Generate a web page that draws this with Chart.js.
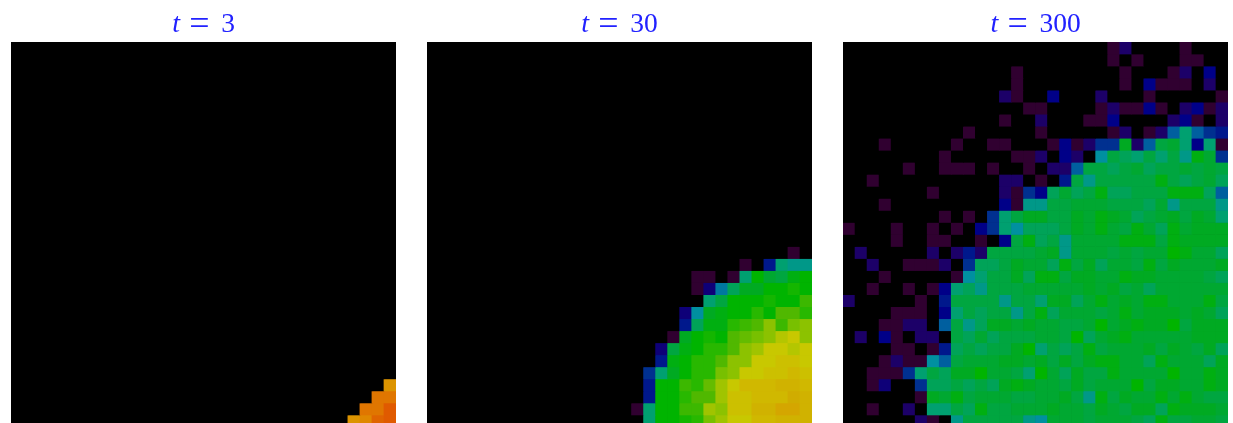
<!DOCTYPE html>
<html>
<head>
<meta charset="utf-8">
<title>t = 3, 30, 300</title>
<script src="https://cdn.jsdelivr.net/npm/chart.js@4"></script>
<style>
html, body { margin: 0; padding: 0; background: #fff; overflow: hidden; height: 423px; }
canvas { position: absolute; top: 0; }
</style>
</head>
<body>
<canvas id="panel1" width="385" height="427" style="left:11px"></canvas>
<canvas id="panel2" width="385" height="427" style="left:427px"></canvas>
<canvas id="panel3" width="385" height="427" style="left:843px"></canvas>
<script>
// one row per line, top row first, 32 cells per row
var times = ['3', '30', '300'];
var cols = ['0','1','2','3','4','5','6','7','8','9','10','11','12','13','14','15','16','17','18','19','20','21','22','23','24','25','26','27','28','29','30','31'];

var panel1 = [
 [0,0,0,0,0,0,0,0,0,0,0,0,0,0,0,0, 0,0,0,0,0,0,0,0,0,0,0,0,0,0,0,0],
 [0,0,0,0,0,0,0,0,0,0,0,0,0,0,0,0, 0,0,0,0,0,0,0,0,0,0,0,0,0,0,0,0],
 [0,0,0,0,0,0,0,0,0,0,0,0,0,0,0,0, 0,0,0,0,0,0,0,0,0,0,0,0,0,0,0,0],
 [0,0,0,0,0,0,0,0,0,0,0,0,0,0,0,0, 0,0,0,0,0,0,0,0,0,0,0,0,0,0,0,0],
 [0,0,0,0,0,0,0,0,0,0,0,0,0,0,0,0, 0,0,0,0,0,0,0,0,0,0,0,0,0,0,0,0],
 [0,0,0,0,0,0,0,0,0,0,0,0,0,0,0,0, 0,0,0,0,0,0,0,0,0,0,0,0,0,0,0,0],
 [0,0,0,0,0,0,0,0,0,0,0,0,0,0,0,0, 0,0,0,0,0,0,0,0,0,0,0,0,0,0,0,0],
 [0,0,0,0,0,0,0,0,0,0,0,0,0,0,0,0, 0,0,0,0,0,0,0,0,0,0,0,0,0,0,0,0],
 [0,0,0,0,0,0,0,0,0,0,0,0,0,0,0,0, 0,0,0,0,0,0,0,0,0,0,0,0,0,0,0,0],
 [0,0,0,0,0,0,0,0,0,0,0,0,0,0,0,0, 0,0,0,0,0,0,0,0,0,0,0,0,0,0,0,0],
 [0,0,0,0,0,0,0,0,0,0,0,0,0,0,0,0, 0,0,0,0,0,0,0,0,0,0,0,0,0,0,0,0],
 [0,0,0,0,0,0,0,0,0,0,0,0,0,0,0,0, 0,0,0,0,0,0,0,0,0,0,0,0,0,0,0,0],
 [0,0,0,0,0,0,0,0,0,0,0,0,0,0,0,0, 0,0,0,0,0,0,0,0,0,0,0,0,0,0,0,0],
 [0,0,0,0,0,0,0,0,0,0,0,0,0,0,0,0, 0,0,0,0,0,0,0,0,0,0,0,0,0,0,0,0],
 [0,0,0,0,0,0,0,0,0,0,0,0,0,0,0,0, 0,0,0,0,0,0,0,0,0,0,0,0,0,0,0,0],
 [0,0,0,0,0,0,0,0,0,0,0,0,0,0,0,0, 0,0,0,0,0,0,0,0,0,0,0,0,0,0,0,0],
 [0,0,0,0,0,0,0,0,0,0,0,0,0,0,0,0, 0,0,0,0,0,0,0,0,0,0,0,0,0,0,0,0],
 [0,0,0,0,0,0,0,0,0,0,0,0,0,0,0,0, 0,0,0,0,0,0,0,0,0,0,0,0,0,0,0,0],
 [0,0,0,0,0,0,0,0,0,0,0,0,0,0,0,0, 0,0,0,0,0,0,0,0,0,0,0,0,0,0,0,0],
 [0,0,0,0,0,0,0,0,0,0,0,0,0,0,0,0, 0,0,0,0,0,0,0,0,0,0,0,0,0,0,0,0],
 [0,0,0,0,0,0,0,0,0,0,0,0,0,0,0,0, 0,0,0,0,0,0,0,0,0,0,0,0,0,0,0,0],
 [0,0,0,0,0,0,0,0,0,0,0,0,0,0,0,0, 0,0,0,0,0,0,0,0,0,0,0,0,0,0,0,0],
 [0,0,0,0,0,0,0,0,0,0,0,0,0,0,0,0, 0,0,0,0,0,0,0,0,0,0,0,0,0,0,0,0],
 [0,0,0,0,0,0,0,0,0,0,0,0,0,0,0,0, 0,0,0,0,0,0,0,0,0,0,0,0,0,0,0,0],
 [0,0,0,0,0,0,0,0,0,0,0,0,0,0,0,0, 0,0,0,0,0,0,0,0,0,0,0,0,0,0,0,0],
 [0,0,0,0,0,0,0,0,0,0,0,0,0,0,0,0, 0,0,0,0,0,0,0,0,0,0,0,0,0,0,0,0],
 [0,0,0,0,0,0,0,0,0,0,0,0,0,0,0,0, 0,0,0,0,0,0,0,0,0,0,0,0,0,0,0,0],
 [0,0,0,0,0,0,0,0,0,0,0,0,0,0,0,0, 0,0,0,0,0,0,0,0,0,0,0,0,0,0,0,0],
 [0,0,0,0,0,0,0,0,0,0,0,0,0,0,0,0, 0,0,0,0,0,0,0,0,0,0,0,0,0,0,0,18.5],
 [0,0,0,0,0,0,0,0,0,0,0,0,0,0,0,0, 0,0,0,0,0,0,0,0,0,0,0,0,0,0,19.5,19.5],
 [0,0,0,0,0,0,0,0,0,0,0,0,0,0,0,0, 0,0,0,0,0,0,0,0,0,0,0,0,0,19.5,19.5,20.5],
 [0,0,0,0,0,0,0,0,0,0,0,0,0,0,0,0, 0,0,0,0,0,0,0,0,0,0,0,0,18.5,19,20,20.5]
];

var panel2 = [
 [0,0,0,0,0,0,0,0,0,0,0,0,0,0,0,0, 0,0,0,0,0,0,0,0,0,0,0,0,0,0,0,0],
 [0,0,0,0,0,0,0,0,0,0,0,0,0,0,0,0, 0,0,0,0,0,0,0,0,0,0,0,0,0,0,0,0],
 [0,0,0,0,0,0,0,0,0,0,0,0,0,0,0,0, 0,0,0,0,0,0,0,0,0,0,0,0,0,0,0,0],
 [0,0,0,0,0,0,0,0,0,0,0,0,0,0,0,0, 0,0,0,0,0,0,0,0,0,0,0,0,0,0,0,0],
 [0,0,0,0,0,0,0,0,0,0,0,0,0,0,0,0, 0,0,0,0,0,0,0,0,0,0,0,0,0,0,0,0],
 [0,0,0,0,0,0,0,0,0,0,0,0,0,0,0,0, 0,0,0,0,0,0,0,0,0,0,0,0,0,0,0,0],
 [0,0,0,0,0,0,0,0,0,0,0,0,0,0,0,0, 0,0,0,0,0,0,0,0,0,0,0,0,0,0,0,0],
 [0,0,0,0,0,0,0,0,0,0,0,0,0,0,0,0, 0,0,0,0,0,0,0,0,0,0,0,0,0,0,0,0],
 [0,0,0,0,0,0,0,0,0,0,0,0,0,0,0,0, 0,0,0,0,0,0,0,0,0,0,0,0,0,0,0,0],
 [0,0,0,0,0,0,0,0,0,0,0,0,0,0,0,0, 0,0,0,0,0,0,0,0,0,0,0,0,0,0,0,0],
 [0,0,0,0,0,0,0,0,0,0,0,0,0,0,0,0, 0,0,0,0,0,0,0,0,0,0,0,0,0,0,0,0],
 [0,0,0,0,0,0,0,0,0,0,0,0,0,0,0,0, 0,0,0,0,0,0,0,0,0,0,0,0,0,0,0,0],
 [0,0,0,0,0,0,0,0,0,0,0,0,0,0,0,0, 0,0,0,0,0,0,0,0,0,0,0,0,0,0,0,0],
 [0,0,0,0,0,0,0,0,0,0,0,0,0,0,0,0, 0,0,0,0,0,0,0,0,0,0,0,0,0,0,0,0],
 [0,0,0,0,0,0,0,0,0,0,0,0,0,0,0,0, 0,0,0,0,0,0,0,0,0,0,0,0,0,0,0,0],
 [0,0,0,0,0,0,0,0,0,0,0,0,0,0,0,0, 0,0,0,0,0,0,0,0,0,0,0,0,0,0,0,0],
 [0,0,0,0,0,0,0,0,0,0,0,0,0,0,0,0, 0,0,0,0,0,0,0,0,0,0,0,0,0,0,0,0],
 [0,0,0,0,0,0,0,0,0,0,0,0,0,0,0,0, 0,0,0,0,0,0,0,0,0,0,0,0,0,0,1,0],
 [0,0,0,0,0,0,0,0,0,0,0,0,0,0,0,0, 0,0,0,0,0,0,0,0,0,0,1,0,3.5,7,6.5,6.5],
 [0,0,0,0,0,0,0,0,0,0,0,0,0,0,0,0, 0,0,0,0,0,0,1,1,0,1,7,10,8.5,8,9.5,10],
 [0,0,0,0,0,0,0,0,0,0,0,0,0,0,0,0, 0,0,0,0,0,0,1,2.5,5.5,7.5,9,9,10,10,10.5,10],
 [0,0,0,0,0,0,0,0,0,0,0,0,0,0,0,0, 0,0,0,0,0,0,0,7,8,10,10,10,10.5,10,10,11.5],
 [0,0,0,0,0,0,0,0,0,0,0,0,0,0,0,0, 0,0,0,0,0,2.5,6,9,9.5,10,10,11,10,12,12,11],
 [0,0,0,0,0,0,0,0,0,0,0,0,0,0,0,0, 0,0,0,0,0,3.5,7.5,9.5,9.5,11,11.5,12,13.5,11.5,13,13.5],
 [0,0,0,0,0,0,0,0,0,0,0,0,0,0,0,0, 0,0,0,0,1,9,10,10.5,10,12,12.5,13,13.5,14.5,15,13.5],
 [0,0,0,0,0,0,0,0,0,0,0,0,0,0,0,0, 0,0,0,2.5,8,9.5,10,11,11,12,13.5,14,15,15,14.5,15],
 [0,0,0,0,0,0,0,0,0,0,0,0,0,0,0,0, 0,0,0,3.5,9.5,10,11,11,12,13.5,13.5,15,15,15.5,15.5,15],
 [0,0,0,0,0,0,0,0,0,0,0,0,0,0,0,0, 0,0,4,7,9,10,11,11,13,13.5,15,15,15.5,15.5,16,15.5],
 [0,0,0,0,0,0,0,0,0,0,0,0,0,0,0,0, 0,0,3.5,10,10,11.5,11,12.5,14,15,16,16,16,16.5,16.5,16],
 [0,0,0,0,0,0,0,0,0,0,0,0,0,0,0,0, 0,0,3.5,10,10,11,12,12,14,15.5,15.5,16,16,16,17,16.5],
 [0,0,0,0,0,0,0,0,0,0,0,0,0,0,0,0, 0,1,7,10,10,11.5,11.5,14,13.5,15.5,15.5,16.5,16.5,17.5,17.5,16.5],
 [0,0,0,0,0,0,0,0,0,0,0,0,0,0,0,0, 0,0,7,10,10,10.5,11,13,14,15,15,16,16,16.5,16.5,16.5]
];

var panel3 = [
 [0,0,0,0,0,0,0,0,0,0,0,0,0,0,0,0, 0,0,0,0,0,0,1,2,0,0,0,0,1,0,0,0],
 [0,0,0,0,0,0,0,0,0,0,0,0,0,0,0,0, 0,0,0,0,0,0,1,0,1,0,0,0,1,1,0,0],
 [0,0,0,0,0,0,0,0,0,0,0,0,0,0,1,0, 0,0,0,0,0,0,0,1,0,0,0,1,2,0,3,0],
 [0,0,0,0,0,0,0,0,0,0,0,0,0,0,1,0, 0,0,0,0,0,0,0,1,0,3,1,1,1,0,2,0],
 [0,0,0,0,0,0,0,0,0,0,0,0,0,2,1,0, 0,3,0,0,0,2,0,0,0,1,0,0,0,0,0,1],
 [0,0,0,0,0,0,0,0,0,0,0,0,0,0,0,1, 1,0,0,0,0,1,2,1,1,3,1,0,2,3,1,2],
 [0,0,0,0,0,0,0,0,0,0,0,0,0,1,0,0, 2,0,0,0,1,1,3,0,0,0,0,2,3,1,0,2],
 [0,0,0,0,0,0,0,0,0,0,1,0,0,0,0,0, 1,0,0,0,0,0,1,2,0,1,2,5,7,5,4,3.5],
 [0,0,0,1,0,0,0,0,0,1,0,0,1,1,0,0, 0,1,3,1,2,4,4,9,2,5,8,8.5,7,3,7,1],
 [0,0,0,0,0,0,0,0,1,0,0,0,0,0,1,1, 2,0,3,2,0,6,8,7.5,7,8,7,8,6.5,9.5,8.5,4],
 [0,0,0,0,0,1,0,0,1,1,1,0,1,0,0,1, 0,2,2,5,8,8,7.5,8,8.5,7.5,8,8,8.5,8,8.5,8],
 [0,0,1,0,0,0,0,0,0,0,0,0,0,2,2,0, 1,0,3.5,8,6.5,8,8,8,8,8,9.5,8,7.5,8,8.5,7.5],
 [0,0,0,0,0,0,0,1,0,0,0,0,0,2,1,4, 3,7.5,8.5,7.5,8,9.5,7.5,7.5,8,8,8,9.5,9.5,9.5,7.5,5],
 [0,0,0,1,0,0,0,0,0,0,0,0,0,3,1,6.5, 6.5,8,8,8.5,8.5,8.5,8,8,8,7.5,8.5,6.5,8,8,8,6.5],
 [0,0,0,0,0,0,0,0,1,0,1,0,4,7,8,9, 9,8,8,9,8.5,9.5,9,8.5,7.5,8,8.5,9,8,9,8.5,7],
 [1,0,0,0,1,0,0,1,0,1,0,3,4,7,6,7.5, 7.5,7.5,8,9,8.5,9.5,8.5,8,9.5,8.5,7.5,9.5,8.5,9,9,9],
 [0,0,0,0,1,0,0,1,1,0,0,1,0,3,8,9.5, 7.5,8,6.5,8.5,8.5,8.5,8.5,9.5,9.5,9.5,8,9.5,9,9,9,9],
 [0,2,0,0,0,0,0,2,0,2,3.5,2,8,8,8,8, 8.5,9,6.5,8.5,8.5,8.5,8,8.5,8,8.5,8.5,10,9.5,8.5,8.5,7.5],
 [0,0,2,0,0,1,1,1,2,0,4,7.5,7.5,8,9,8.5, 8.5,7.5,9.5,8,9,7.5,8.5,8.5,8,9.5,8,9,8.5,8.5,8.5,9],
 [0,0,0,1,0,0,0,0,0,1,6,7,8,8,9,7.5, 9.5,9.5,8,9,9,8.5,8.5,9.5,9,9,8.5,8.5,8.5,8.5,8,7.5],
 [0,0,1,0,0,1,0,1,3,7,7.5,6.5,8,8,8,8.5, 8.5,8.5,8.5,8.5,9,8.5,9,8,8.5,7.5,8.5,8.5,8.5,8.5,8.5,8.5],
 [2,0,0,0,0,0,1,0,3.5,8,8,8,8,6.5,8,8, 7,9,9,7.5,8.5,9.5,8.5,9,8.5,9.5,9.5,8.5,8.5,8.5,9.5,8],
 [0,0,0,0,1,1,1,0,3,7,8,7.5,8,8,6.5,8, 9.5,7.5,8.5,8.5,8.5,8,8.5,9.5,8.5,9,9,9,8.5,9,8.5,7.5],
 [0,0,0,1,1,2,2,0,5,8,6.5,7.5,9,9,8.5,9, 8.5,8.5,8,8,8.5,10,8.5,9,9.5,9,9,10,8,9,9,9],
 [0,2,0,3,1,0,2,2,0,8,7.5,8.5,7.5,8,8,8, 8.5,8.5,8,10,7.5,8.5,9,9.5,8.5,8.5,8.5,8.5,8.5,9,9,9],
 [0,0,0,0,1,1,0,1,3.5,7.5,8,7.5,8,8,9,10, 7,8,7.5,8,9.5,8,8.5,8.5,8.5,9,8,9,8.5,8,9,7.5],
 [0,0,0,1,2,1,1,6,5,8,8.5,8.5,8.5,9,9,8.5, 9,8,9,8,9,9.5,9.5,8.5,8.5,7.5,9.5,8.5,8.5,8.5,7.5,9],
 [0,0,1,1,1,4,7,8,7.5,9,9,10,8.5,8.5,8,7, 10,8.5,7.5,9,8,8,9.5,8.5,8.5,8.5,8.5,10,8.5,8.5,9.5,9],
 [0,0,1,2.5,0,0,4,7.5,7.5,8,7.5,8,7.5,9,9.5,9, 8.5,8.5,8,9,8,8.5,8.5,8.5,10,8,9,9,8.5,8.5,9.5,9],
 [0,0,0,0,0,0,1,9,8.5,9.5,8,8.5,8.5,8.5,8,8, 8.5,8.5,9,8,6.5,9.5,8,9,8.5,8.5,9.5,8.5,9.5,8.5,8,8],
 [0,0,1,0,0,2,0,7,7,8,7.5,9.5,8,8,8.5,8.5, 8.5,9,8.5,8.5,8,9,8.5,8,9,9,7.5,9.5,9,9,9,8.5],
 [0,0,0,0,0,0,2,1,0,6.5,8,8,8,8,8,6.5, 6,8.5,8.5,8.5,8,8.5,8.5,8.5,8,7.5,9.5,8,8,8.5,8.5,8]
];

// colour ramp, one colour per level from 0 upwards
var ramp = ['#000000','#300030','#1c0068','#000088','#003090','#005f9f','#0090a0','#00a070','#00a640','#00aa22',
            '#00b400','#28b800','#50b800','#78c000','#a0c400','#c8c800','#d0b800','#d0ac00','#d8a000','#e08800','#e06400','#e05000'];

function hexToRgb(h){
    return [parseInt(h.substr(1,2),16), parseInt(h.substr(3,2),16), parseInt(h.substr(5,2),16)];
}

function levelColor(v){
    let i = Math.floor(v);
    let a = hexToRgb(ramp[i]);
    let b = hexToRgb(ramp[Math.min(i+1, ramp.length-1)]);
    let f = v - i;
    return 'rgb(' + [0,1,2].map(k => Math.round(a[k] + (b[k]-a[k])*f)).join(',') + ')';
}

// black behind the cells so no white shows through at the seams
var blackBack = {
    id: 'blackBack',
    beforeDatasetsDraw(chart){
        let a = chart.chartArea;
        chart.ctx.save();
        chart.ctx.fillStyle = '#000';
        chart.ctx.fillRect(a.left, a.top, a.right - a.left, a.bottom - a.top);
        chart.ctx.restore();
    }
};

// title: italic t, wide equals, upright digits
var mathTitle = {
    id: 'mathTitle',
    afterDraw(chart, args, opts){
        let ctx = chart.ctx;
        let digitWidth = 13.75;
        let x = (chart.width - 49 - digitWidth * opts.time.length) / 2;
        ctx.save();
        ctx.fillStyle = '#2222ff';
        ctx.textBaseline = 'alphabetic';
        ctx.font = 'italic 28px "Liberation Serif"';
        ctx.fillText('t', x, 32);
        ctx.font = '36px "Liberation Serif"';
        ctx.fillText('=', x + 17, 34.5);
        ctx.font = '27.5px "Liberation Serif"';
        ctx.fillText(opts.time, x + 49, 32);
        ctx.restore();
    }
};

function makePanel(id, rows, time){
    // each row is a stacked dataset one unit tall
    let datasets = rows.map(row => ({
        data: row.map(() => 1),
        backgroundColor: row.map(levelColor),
        borderWidth: 0,
        barPercentage: 1,
        categoryPercentage: 1
    }));
    return new Chart(document.getElementById(id), {
        type: 'bar',
        data: { labels: cols, datasets: datasets },
        plugins: [blackBack, mathTitle],
        options: {
            responsive: false,
            animation: false,
            layout: { padding: { top: 42, left: 0, right: 0, bottom: 0 } },
            plugins: {
                legend: { display: false },
                tooltip: { enabled: false },
                mathTitle: { time: time }
            },
            scales: {
                x: { display: false, stacked: true },
                y: { display: false, stacked: true, reverse: true, min: 0, max: 32 }
            }
        }
    });
}

makePanel('panel1', panel1, times[0]);
makePanel('panel2', panel2, times[1]);
makePanel('panel3', panel3, times[2]);
</script>
</body>
</html>
